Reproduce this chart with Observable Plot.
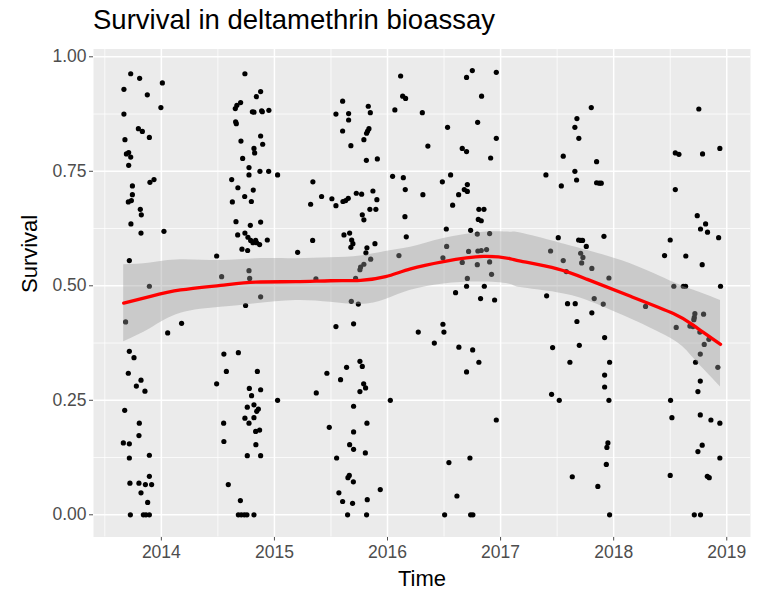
<!DOCTYPE html>
<html><head><meta charset="utf-8">
<script src="https://cdn.jsdelivr.net/npm/d3@7"></script>
<script src="https://cdn.jsdelivr.net/npm/@observablehq/plot@0.6"></script>
<style>
html,body{margin:0;padding:0;background:#fff;}
#wrap{position:relative;width:766px;height:594px;overflow:hidden;font-family:'Liberation Sans',Arial,sans-serif;}
#title{position:absolute;left:93px;top:6px;font-size:27.5px;line-height:27.5px;color:#000;white-space:nowrap;}
#chart{position:absolute;left:0;top:40px;}
</style></head><body>
<div id="wrap"><div id="title">Survival in deltamethrin bioassay</div><div id="chart"></div></div>
<script>
// Observations per campaign: [time (decimal year), survival]
const c2013 = [[2013.729,0.963],[2013.808,0.953],[2014.009,0.943],[2013.669,0.929],[2013.876,0.917],[2013.996,0.889],[2013.669,0.875],[2013.797,0.843],[2013.832,0.837],[2013.894,0.824],[2013.678,0.819],[2013.691,0.788],[2013.711,0.791],[2013.729,0.781],[2013.711,0.763],[2013.935,0.732],[2013.899,0.726],[2013.744,0.718],[2013.744,0.699],[2013.708,0.683],[2013.735,0.686],[2013.814,0.667],[2013.823,0.655],[2013.731,0.635],[2013.820,0.615],[2014.023,0.619],[2013.717,0.555],[2013.894,0.499],[2013.684,0.421],[2014.056,0.397],[2014.179,0.418],[2013.717,0.357],[2013.758,0.343],[2013.708,0.309],[2013.820,0.294],[2013.779,0.281],[2013.855,0.270],[2013.676,0.228],[2013.805,0.200],[2013.802,0.173],[2013.664,0.157],[2013.717,0.155],[2013.717,0.124],[2013.894,0.130],[2013.894,0.084],[2013.722,0.069],[2013.802,0.069],[2013.859,0.066],[2013.914,0.066],[2013.820,0.048],[2013.879,0.027],[2013.726,0],[2013.841,0],[2013.864,0],[2013.894,0]];
const c2014 = [[2014.739,0.963],[2014.878,0.924],[2014.840,0.913],[2014.701,0.900],[2014.668,0.894],[2014.654,0.887],[2014.805,0.880],[2014.819,0.879],[2014.887,0.882],[2014.893,0.880],[2014.951,0.883],[2014.657,0.858],[2014.663,0.854],[2014.704,0.816],[2014.878,0.827],[2014.896,0.809],[2014.819,0.800],[2014.825,0.790],[2014.719,0.778],[2014.775,0.758],[2014.775,0.742],[2014.872,0.750],[2014.949,0.750],[2015.028,0.742],[2014.622,0.732],[2014.677,0.714],[2014.813,0.709],[2014.737,0.695],[2014.628,0.683],[2014.796,0.684],[2014.660,0.640],[2014.878,0.639],[2014.787,0.632],[2014.675,0.611],[2014.739,0.615],[2014.766,0.606],[2014.790,0.599],[2014.834,0.599],[2014.843,0.594],[2014.810,0.594],[2014.869,0.590],[2014.937,0.600],[2014.713,0.580],[2014.763,0.577],[2014.489,0.565],[2015.205,0.573],[2014.533,0.520],[2014.775,0.533],[2014.781,0.516],[2014.878,0.476],[2014.745,0.457],[2014.553,0.351],[2014.681,0.354],[2014.575,0.313],[2014.849,0.313],[2014.489,0.286],[2014.778,0.276],[2014.878,0.273],[2014.798,0.260],[2015.028,0.250],[2014.760,0.235],[2014.819,0.240],[2014.858,0.231],[2014.843,0.226],[2014.739,0.211],[2014.819,0.212],[2014.775,0.200],[2014.551,0.200],[2014.869,0.185],[2014.834,0.182],[2014.553,0.160],[2014.836,0.153],[2014.760,0.129],[2014.878,0.129],[2014.592,0.066],[2014.699,0.031],[2014.681,0],[2014.707,0],[2014.734,0],[2014.757,0],[2014.819,0]];
const c2015 = [[2016.116,0.958],[2016.134,0.914],[2016.160,0.909],[2016.065,0.884],[2015.603,0.903],[2015.544,0.875],[2015.656,0.876],[2015.656,0.862],[2015.830,0.892],[2015.848,0.878],[2015.603,0.838],[2015.836,0.843],[2015.824,0.838],[2015.815,0.833],[2015.791,0.819],[2015.676,0.806],[2015.813,0.774],[2015.910,0.777],[2015.340,0.727],[2015.320,0.678],[2016.045,0.739],[2016.140,0.736],[2016.157,0.710],[2016.154,0.651],[2016.166,0.607],[2015.417,0.695],[2015.508,0.690],[2015.544,0.675],[2015.606,0.684],[2015.630,0.686],[2015.653,0.691],[2015.724,0.702],[2015.771,0.700],[2015.871,0.707],[2015.906,0.688],[2015.844,0.667],[2015.897,0.667],[2015.777,0.655],[2015.791,0.644],[2015.338,0.599],[2015.615,0.611],[2015.665,0.615],[2015.683,0.600],[2015.694,0.592],[2015.676,0.584],[2015.818,0.583],[2015.889,0.592],[2015.809,0.572],[2015.851,0.558],[2015.791,0.547],[2015.762,0.541],[2015.756,0.535],[2016.101,0.566],[2015.367,0.515],[2015.718,0.516],[2015.680,0.466],[2015.742,0.460],[2015.544,0.411],[2015.700,0.417],[2015.756,0.335],[2015.777,0.324],[2015.638,0.322],[2015.464,0.309],[2015.585,0.295],[2015.789,0.286],[2015.806,0.277],[2015.756,0.269],[2015.370,0.266],[2016.025,0.250],[2015.700,0.237],[2015.485,0.191],[2015.818,0.200],[2015.700,0.181],[2015.665,0.153],[2015.700,0.143],[2015.804,0.135],[2015.550,0.124],[2015.662,0.086],[2015.650,0.081],[2015.698,0.072],[2015.936,0.055],[2015.570,0.048],[2015.603,0.029],[2015.691,0.025],[2015.821,0.033],[2015.647,0],[2015.815,0]];
const c2016 = [[2016.308,0.878],[2016.750,0.970],[2016.699,0.955],[2016.962,0.966],[2016.832,0.914],[2016.797,0.857],[2016.531,0.846],[2016.962,0.822],[2016.357,0.805],[2016.661,0.800],[2016.699,0.793],[2016.912,0.779],[2016.313,0.699],[2016.485,0.727],[2016.558,0.742],[2016.706,0.721],[2016.679,0.710],[2016.706,0.706],[2016.629,0.699],[2016.576,0.676],[2016.808,0.667],[2016.853,0.667],[2016.803,0.645],[2016.829,0.642],[2016.520,0.624],[2016.735,0.621],[2016.794,0.613],[2016.903,0.614],[2016.523,0.586],[2016.490,0.561],[2016.717,0.575],[2016.799,0.576],[2016.829,0.577],[2016.876,0.579],[2016.661,0.551],[2016.794,0.546],[2016.903,0.552],[2016.920,0.525],[2016.706,0.516],[2016.699,0.499],[2016.856,0.499],[2016.602,0.485],[2016.823,0.472],[2016.947,0.469],[2016.490,0.416],[2016.272,0.399],[2016.499,0.399],[2016.414,0.375],[2016.631,0.366],[2016.753,0.360],[2016.808,0.333],[2016.699,0.312],[2016.962,0.207],[2016.729,0.124],[2016.543,0.114],[2016.614,0.041],[2016.505,0],[2016.735,0],[2016.755,0]];
const c2017 = [[2017.802,0.889],[2017.675,0.865],[2017.657,0.846],[2017.692,0.822],[2017.554,0.783],[2017.849,0.771],[2017.657,0.750],[2017.672,0.731],[2017.401,0.742],[2017.537,0.718],[2017.849,0.725],[2017.873,0.724],[2017.890,0.724],[2017.510,0.605],[2017.690,0.600],[2017.710,0.599],[2017.725,0.599],[2017.758,0.586],[2017.914,0.608],[2017.442,0.576],[2017.554,0.555],[2017.708,0.571],[2017.728,0.562],[2017.717,0.550],[2017.807,0.538],[2017.958,0.517],[2017.581,0.531],[2017.407,0.478],[2017.828,0.472],[2017.908,0.460],[2017.592,0.461],[2017.660,0.461],[2017.807,0.441],[2017.675,0.422],[2017.920,0.387],[2017.460,0.365],[2017.696,0.370],[2017.613,0.333],[2017.964,0.333],[2017.920,0.305],[2017.920,0.279],[2017.451,0.263],[2017.519,0.250],[2017.958,0.250],[2017.949,0.157],[2017.940,0.147],[2017.935,0.110],[2017.634,0.083],[2017.860,0.062],[2017.964,0]];
const c2018 = [[2018.753,0.886],[2018.545,0.790],[2018.577,0.787],[2018.786,0.788],[2018.939,0.800],[2018.545,0.710],[2018.739,0.653],[2018.813,0.635],[2018.768,0.624],[2018.830,0.617],[2018.928,0.605],[2018.500,0.600],[2018.450,0.566],[2018.638,0.565],[2018.783,0.546],[2018.532,0.499],[2018.616,0.499],[2018.636,0.499],[2018.945,0.499],[2018.282,0.455],[2018.718,0.439],[2018.713,0.431],[2018.709,0.426],[2018.795,0.438],[2018.553,0.409],[2018.674,0.412],[2018.701,0.411],[2018.762,0.399],[2018.842,0.383],[2018.801,0.372],[2018.766,0.351],[2018.724,0.333],[2018.921,0.322],[2018.766,0.292],[2018.745,0.269],[2018.503,0.250],[2018.515,0.212],[2018.766,0.218],[2018.860,0.207],[2018.939,0.200],[2018.783,0.152],[2018.745,0.138],[2018.939,0.124],[2018.500,0.086],[2018.828,0.084],[2018.845,0.081],[2018.713,0],[2018.768,0]];

// Loess smooth
const smoothTime = [2013.667,2013.905,2014.171,2014.524,2014.834,2015.188,2015.497,2015.762,2015.983,2016.204,2016.496,2016.850,2017.088,2017.177,2017.501,2017.767,2018.149,2018.532,2018.709,2018.945];
const smoothFit  = [0.462,0.477,0.491,0.501,0.508,0.509,0.511,0.512,0.520,0.537,0.553,0.564,0.559,0.554,0.537,0.514,0.477,0.439,0.413,0.372];
const smoothLow  = [0.378,0.407,0.440,0.453,0.461,0.468,0.464,0.459,0.470,0.490,0.504,0.508,0.503,0.496,0.485,0.468,0.428,0.381,0.341,0.279];
const smoothHigh = [0.546,0.550,0.557,0.555,0.559,0.559,0.561,0.565,0.575,0.584,0.603,0.617,0.617,0.615,0.595,0.577,0.548,0.507,0.490,0.468];

const xTicks = [2014,2015,2016,2017,2018,2019];
const xMinor = [2013.5,2014.5,2015.5,2016.5,2017.5,2018.5];
const yTicks = [0,0.25,0.5,0.75,1];
const yMinor = [0.125,0.375,0.625,0.875];

const points = [...c2013,...c2014,...c2015,...c2016,...c2017,...c2018].map(([t,s]) => ({t, s}));
const smooth = smoothTime.map((t,i) => ({t, fit: smoothFit[i], lo: smoothLow[i], hi: smoothHigh[i]}));

const svg = Plot.plot({
  width: 766, height: 554,
  marginLeft: 93, marginRight: 16, marginTop: 8.5, marginBottom: 57.5,
  style: {fontFamily: "'Liberation Sans', Arial, sans-serif", fontSize: "17.5px", color: "#4D4D4D", background: "white", overflow: "visible"},
  x: {domain: [2013.40, 2019.21], ticks: xTicks, tickFormat: "d", tickSize: 4, tickPadding: 5, label: null},
  y: {domain: [-0.0485, 1.017], ticks: yTicks, tickFormat: ".2f", tickSize: 4, tickPadding: 3, label: null},
  marks: [
    Plot.frame({fill: "#EBEBEB", stroke: null}),
    Plot.ruleY(yMinor, {stroke: "white", strokeWidth: 0.75}),
    Plot.ruleX(xMinor, {stroke: "white", strokeWidth: 0.75}),
    Plot.ruleY(yTicks, {stroke: "white", strokeWidth: 1.5}),
    Plot.ruleX(xTicks, {stroke: "white", strokeWidth: 1.5}),
    Plot.dot(points, {x: "t", y: "s", r: 2.6, fill: "black"}),
    Plot.areaY(smooth, {x: "t", y1: "lo", y2: "hi", fill: "#999999", fillOpacity: 0.4, curve: "natural"}),
    Plot.line(smooth, {x: "t", y: "fit", stroke: "#FF0000", strokeWidth: 3.3, curve: "natural"}),
    Plot.text(["Time"], {frameAnchor: "bottom", dy: 49, text: d => d, fontSize: 22, fill: "black"}),
    Plot.text(["Survival"], {frameAnchor: "left", dx: -64, rotate: -90, text: d => d, fontSize: 22, fill: "black"})
  ]
});
document.getElementById("chart").appendChild(svg);
</script>
</body></html>
